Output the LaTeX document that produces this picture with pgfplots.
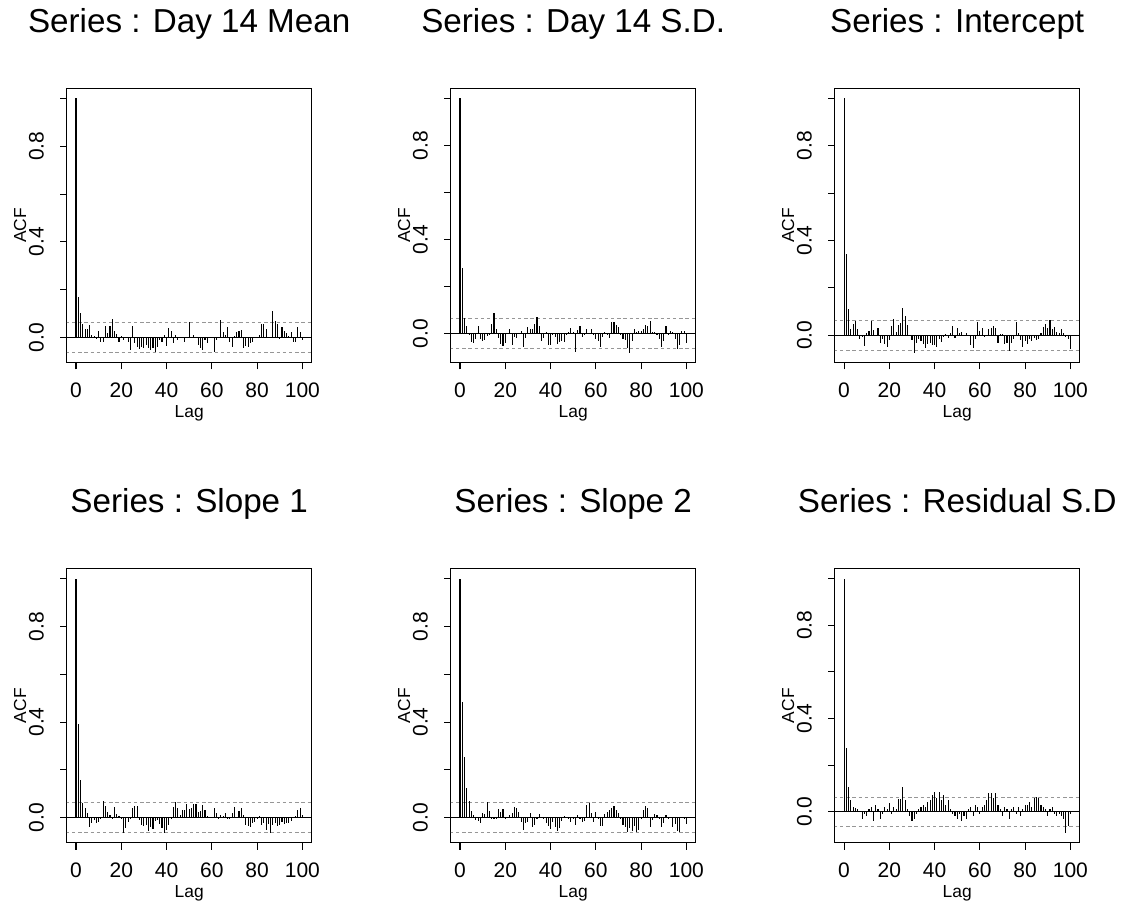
\documentclass[border=0pt]{standalone}
\usepackage{fontspec}
\setmainfont{Liberation Sans}
\usepackage{pgfplots}
\pgfplotsset{compat=1.18}
\definecolor{ciGray}{RGB}{150,150,150}
\pgfplotsset{
  acfpanel/.style={
    scale only axis, width=122.4pt, height=137.2pt,
    anchor=south west,
    xmin=-4.08, xmax=104.08,
    xtick={0,20,40,60,80,100},
    ytick={0,0.2,0.4,0.6,0.8,1},
    yticklabels={0.0,,0.4,,0.8,},
    tick align=outside, major tick length=3.3pt,
    xtick pos=bottom, ytick pos=left,
    axis line style={line width=0.55pt},
    every tick/.style={black, line width=0.55pt},
    /pgf/number format/assume math mode=true,
    tick label style={font=\fontsize{10.5}{12}\selectfont},
    xticklabel style={anchor=base, yshift=-14pt},
    yticklabel shift=8.3pt,
    yticklabel style={anchor=base, rotate=90},
    label style={font=\fontsize{8.7}{10}\selectfont},
    xlabel={Lag}, ylabel={ACF},
    xlabel style={at={(axis description cs:0.5,-0.199)}, anchor=base},
    ylabel style={at={(axis description cs:-0.166,0.5)}, anchor=base, rotate=0},
    title style={at={(axis description cs:0.5,1)}, anchor=base, yshift=22pt, font=\fontsize{16.6}{19}\selectfont},
    clip=true,
  },
  acfbar/.style={ycomb, black, line width=0.55pt, mark=none},
  ciline/.style={ciGray, line width=0.55pt, dash pattern=on 1.7pt off 1.4pt},
}
\begin{document}
\begin{tikzpicture}
\useasboundingbox (0,0) rectangle (563.5pt,451.5pt);
% ---------- Panel 1
\begin{axis}[acfpanel, at={(33.4pt,270.15pt)}, ymin=-0.1055, ymax=1.0425, title={Series : Day 14 Mean}]
\addplot[ciline] coordinates {(-10,0.063)(110,0.063)};
\addplot[ciline] coordinates {(-10,-0.063)(110,-0.063)};
\addplot[black, line width=0.55pt] coordinates {(-10,0)(110,0)};
\addplot[acfbar] coordinates {
(0,1)(1,0.168)(2,0.103)(3,0.057)(4,0.035)(5,0.035)(6,0.054)(7,0.01)(8,0.007)(9,-0.007)
(10,0.028)(11,-0.018)(12,-0.017)(13,0.049)(14,0.018)(15,0.046)(16,0.077)(17,0.029)(18,0.015)(19,-0.017)
(20,0.007)(21,-0.01)(22,-0.003)(23,-0.017)(24,-0.054)(25,0.046)(26,-0.024)(27,-0.038)(28,-0.049)(29,-0.038)
(30,-0.045)(31,-0.031)(32,-0.045)(33,-0.052)(34,-0.045)(35,-0.059)(36,-0.038)(37,-0.01)(38,-0.017)(39,0.011)
(40,-0.034)(41,0.039)(42,0.029)(43,-0.024)(44,0.011)(45,-0.01)(46,0.004)(47,0.004)(48,-0.02)(49,-0.003)
(50,0.064)(51,0.004)(52,0.011)(53,0.004)(54,-0.031)(55,-0.042)(56,-0.052)(57,-0.01)(58,-0.024)(59,0.004)
(60,0.004)(61,-0.061)(62,-0.01)(63,0.004)(64,0.074)(65,0.022)(66,0.011)(67,0.043)(68,-0.017)(69,-0.038)
(70,0.007)(71,0.021)(72,0.025)(73,0.032)(74,-0.042)(75,-0.035)(76,-0.038)(77,-0.024)(78,-0.017)(79,-0.003)
(80,0.004)(81,0.011)(82,0.056)(83,0.056)(84,0.036)(85,0.004)(86,-0.003)(87,0.109)(88,0.071)(89,0.056)
(90,-0.007)(91,0.042)(92,0.029)(93,0.018)(94,0.007)(95,0.022)(96,-0.017)(97,-0.017)(98,0.042)(99,0.021)
(100,-0.01)};
\end{axis}
% ---------- Panel 2
\begin{axis}[acfpanel, at={(225.4pt,270.15pt)}, ymin=-0.1232, ymax=1.0432, title={Series : Day 14 S.D.}]
\addplot[ciline] coordinates {(-10,0.063)(110,0.063)};
\addplot[ciline] coordinates {(-10,-0.063)(110,-0.063)};
\addplot[black, line width=0.55pt] coordinates {(-10,0)(110,0)};
\addplot[acfbar] coordinates {
(0,1)(1,0.281)(2,0.067)(3,0.031)(4,-0.005)(5,-0.035)(6,-0.038)(7,-0.024)(8,0.032)(9,-0.024)
(10,-0.03)(11,-0.028)(12,-0.01)(13,-0.007)(14,0.043)(15,0.087)(16,0.018)(17,-0.017)(18,-0.045)(19,-0.052)
(20,-0.04)(21,0.004)(22,0.018)(23,-0.049)(24,-0.013)(25,-0.017)(26,0.004)(27,0.011)(28,-0.055)(29,-0.017)
(30,0.028)(31,0.022)(32,0.021)(33,0.042)(34,0.073)(35,0.032)(36,-0.031)(37,-0.017)(38,0.008)(39,-0.046)
(40,-0.046)(41,-0.007)(42,-0.013)(43,-0.042)(44,-0.035)(45,-0.031)(46,-0.035)(47,-0.007)(48,0.007)(49,0.024)
(50,0.007)(51,-0.077)(52,0.014)(53,0.032)(54,-0.013)(55,-0.003)(56,0.02)(57,0.004)(58,0.018)(59,-0.007)
(60,-0.024)(61,-0.031)(62,-0.055)(63,-0.013)(64,0.008)(65,-0.007)(66,-0.017)(67,0.05)(68,0.049)(69,0.035)
(70,0.029)(71,-0.007)(72,-0.024)(73,-0.028)(74,-0.059)(75,-0.08)(76,-0.031)(77,0.018)(78,0.007)(79,0.011)
(80,0.01)(81,0.021)(82,0.039)(83,0.032)(84,0.052)(85,0.008)(86,0.007)(87,-0.007)(88,-0.021)(89,-0.055)
(90,-0.031)(91,0.032)(92,-0.003)(93,0.011)(94,0.007)(95,-0.021)(96,-0.063)(97,-0.046)(98,0.01)(99,0.01)
(100,-0.038)};
\end{axis}
% ---------- Panel 3
\begin{axis}[acfpanel, at={(417.4pt,270.15pt)}, ymin=-0.1159, ymax=1.0429, title={Series : Intercept}]
\addplot[ciline] coordinates {(-10,0.063)(110,0.063)};
\addplot[ciline] coordinates {(-10,-0.063)(110,-0.063)};
\addplot[black, line width=0.55pt] coordinates {(-10,0)(110,0)};
\addplot[acfbar] coordinates {
(0,1)(1,0.345)(2,0.11)(3,0.028)(4,0.049)(5,0.059)(6,0.028)(7,-0.017)(8,-0.006)(9,-0.045)
(10,0.008)(11,0.018)(12,0.061)(13,0.023)(14,0)(15,0.031)(16,-0.031)(17,-0.017)(18,-0.038)(19,-0.048)
(20,-0.021)(21,0.037)(22,0.068)(23,0.014)(24,0.042)(25,0.051)(26,0.113)(27,0.082)(28,0.042)(29,-0.003)
(30,-0.021)(31,-0.073)(32,-0.031)(33,-0.017)(34,-0.024)(35,-0.038)(36,-0.052)(37,-0.038)(38,-0.034)(39,-0.042)
(40,-0.042)(41,-0.048)(42,-0.017)(43,-0.027)(44,-0.006)(45,0.006)(46,-0.011)(47,0.011)(48,0.039)(49,-0.01)
(50,0.032)(51,0.011)(52,0.014)(53,0)(54,0.008)(55,0)(56,-0.042)(57,-0.052)(58,-0.017)(59,0.058)
(60,0.017)(61,0.031)(62,-0.006)(63,-0.003)(64,0.025)(65,0.03)(66,0.039)(67,0.031)(68,-0.031)(69,0.006)
(70,0.006)(71,-0.038)(72,-0.031)(73,-0.068)(74,-0.031)(75,-0.017)(76,0.058)(77,0.008)(78,-0.02)(79,-0.048)
(80,-0.024)(81,-0.038)(82,-0.014)(83,-0.024)(84,-0.01)(85,-0.02)(86,-0.017)(87,0.011)(88,0.035)(89,0.046)
(90,0.03)(91,0.065)(92,0.025)(93,0.035)(94,0.014)(95,0.008)(96,0.025)(97,0.011)(98,-0.006)(99,-0.017)
(100,-0.059)};
\end{axis}
% ---------- Panel 4
\begin{axis}[acfpanel, at={(33.4pt,30.05pt)}, ymin=-0.1055, ymax=1.0425, title={Series : Slope 1}]
\addplot[ciline] coordinates {(-10,0.063)(110,0.063)};
\addplot[ciline] coordinates {(-10,-0.063)(110,-0.063)};
\addplot[black, line width=0.55pt] coordinates {(-10,0)(110,0)};
\addplot[acfbar] coordinates {
(0,1)(1,0.394)(2,0.156)(3,0.063)(4,0.042)(5,0.021)(6,-0.041)(7,-0.021)(8,-0.01)(9,-0.024)
(10,-0.02)(11,-0.007)(12,0.07)(13,0.049)(14,0.025)(15,0.011)(16,-0.007)(17,0.043)(18,0.015)(19,0.007)
(20,-0.003)(21,-0.062)(22,-0.045)(23,-0.02)(24,-0.007)(25,0.039)(26,0.049)(27,0.049)(28,-0.01)(29,-0.031)
(30,-0.035)(31,-0.031)(32,-0.056)(33,-0.038)(34,-0.049)(35,-0.013)(36,-0.01)(37,-0.027)(38,-0.045)(39,-0.062)
(40,-0.052)(41,-0.031)(42,-0.006)(43,0.043)(44,0.065)(45,0.039)(46,0.011)(47,0.032)(48,0.032)(49,0.056)
(50,0.035)(51,0.039)(52,0.056)(53,0.056)(54,0.025)(55,0.029)(56,0.052)(57,0.032)(58,0.007)(59,0)
(60,0.004)(61,0.039)(62,0.018)(63,-0.007)(64,0.011)(65,0.008)(66,0.018)(67,-0.007)(68,-0.003)(69,0.018)
(70,0.043)(71,0.004)(72,0.028)(73,0.039)(74,0.011)(75,-0.031)(76,-0.034)(77,-0.041)(78,-0.024)(79,-0.017)
(80,-0.007)(81,0.008)(82,-0.031)(83,-0.021)(84,-0.052)(85,-0.027)(86,-0.062)(87,-0.031)(88,-0.024)(89,-0.034)
(90,-0.031)(91,-0.017)(92,-0.027)(93,-0.021)(94,-0.021)(95,-0.014)(96,0.004)(97,0.008)(98,0.032)(99,0.042)
(100,0.011)};
\end{axis}
% ---------- Panel 5
\begin{axis}[acfpanel, at={(225.4pt,30.05pt)}, ymin=-0.1055, ymax=1.0425, title={Series : Slope 2}]
\addplot[ciline] coordinates {(-10,0.063)(110,0.063)};
\addplot[ciline] coordinates {(-10,-0.063)(110,-0.063)};
\addplot[black, line width=0.55pt] coordinates {(-10,0)(110,0)};
\addplot[acfbar] coordinates {
(0,1)(1,0.484)(2,0.252)(3,0.123)(4,0.07)(5,0.028)(6,0.011)(7,-0.01)(8,-0.013)(9,-0.024)
(10,0.021)(11,0.014)(12,0.067)(13,0.029)(14,-0.007)(15,-0.003)(16,-0.006)(17,0.036)(18,0.025)(19,0.035)
(20,-0.006)(21,0.004)(22,0.011)(23,0.021)(24,0.043)(25,0.042)(26,0.022)(27,-0.017)(28,-0.052)(29,-0.024)
(30,-0.017)(31,0.018)(32,-0.038)(33,-0.031)(34,-0.007)(35,0.015)(36,0.004)(37,-0.007)(38,-0.024)(39,-0.035)
(40,-0.049)(41,-0.017)(42,-0.038)(43,-0.055)(44,-0.045)(45,-0.013)(46,0.007)(47,0.001)(48,-0.003)(49,-0.017)
(50,-0.003)(51,-0.031)(52,0.011)(53,-0.007)(54,-0.017)(55,-0.013)(56,0.053)(57,0.06)(58,0.021)(59,-0.017)
(60,0.022)(61,-0.003)(62,-0.034)(63,-0.034)(64,0.014)(65,0.025)(66,0.032)(67,0.039)(68,0.049)(69,0.032)
(70,0.018)(71,-0.003)(72,-0.031)(73,-0.038)(74,-0.059)(75,-0.045)(76,-0.055)(77,-0.035)(78,-0.059)(79,-0.052)
(80,-0.003)(81,0.032)(82,0.049)(83,0.039)(84,-0.038)(85,-0.01)(86,0.014)(87,0.011)(88,-0.003)(89,-0.041)
(90,-0.024)(91,0.011)(92,-0.007)(93,0.004)(94,-0.038)(95,-0.027)(96,-0.055)(97,-0.059)(98,0.001)(99,-0.007)
(100,-0.027)};
\end{axis}
% ---------- Panel 6
\begin{axis}[acfpanel, at={(417.4pt,30.05pt)}, ymin=-0.1336, ymax=1.0436, title={Series : Residual S.D}]
\addplot[ciline] coordinates {(-10,0.063)(110,0.063)};
\addplot[ciline] coordinates {(-10,-0.063)(110,-0.063)};
\addplot[black, line width=0.55pt] coordinates {(-10,0)(110,0)};
\addplot[acfbar] coordinates {
(0,1)(1,0.272)(2,0.108)(3,0.05)(4,0.02)(5,0.015)(6,0.01)(7,0.005)(8,-0.03)(9,-0.01)
(10,-0.02)(11,0.01)(12,0.02)(13,-0.04)(14,0.03)(15,0.01)(16,-0.03)(17,-0.01)(18,0.02)(19,0.01)
(20,0.036)(21,-0.01)(22,0.02)(23,0.01)(24,0.054)(25,0.054)(26,0.108)(27,0.05)(28,0.01)(29,-0.02)
(30,-0.04)(31,-0.03)(32,-0.01)(33,0.01)(34,0.02)(35,0.03)(36,0.02)(37,0.04)(38,0.05)(39,0.07)
(40,0.084)(41,0.06)(42,0.084)(43,0.05)(44,0.07)(45,0.03)(46,0.05)(47,0.01)(48,-0.01)(49,-0.02)
(50,-0.03)(51,-0.01)(52,-0.04)(53,-0.02)(54,-0.03)(55,0.01)(56,0.02)(57,-0.02)(58,0.03)(59,0.02)
(60,-0.01)(61,0.02)(62,0.03)(63,0.05)(64,0.08)(65,0.08)(66,0.06)(67,0.08)(68,0.03)(69,0.01)
(70,-0.02)(71,0.02)(72,0.01)(73,-0.03)(74,0.01)(75,0.02)(76,-0.01)(77,0.02)(78,-0.02)(79,0.01)
(80,0.03)(81,0.03)(82,0.04)(83,0.02)(84,0.06)(85,0.065)(86,0.06)(87,0.03)(88,0.02)(89,0.01)
(90,-0.02)(91,0.01)(92,0.02)(93,-0.01)(94,-0.02)(95,-0.01)(96,-0.02)(97,-0.03)(98,-0.09)(99,-0.06)
(100,-0.01)};
\end{axis}
\end{tikzpicture}
\end{document}
